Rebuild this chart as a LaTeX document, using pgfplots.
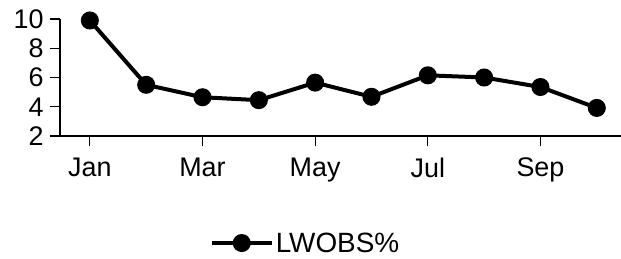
\documentclass[border=0pt]{standalone}
\usepackage{pgfplots}
\pgfplotsset{compat=1.18}
\usepackage{fontspec}
\setmainfont{Liberation Sans}
\begin{document}
\begin{tikzpicture}
\useasboundingbox (-60bp,-123bp) rectangle (561bp,136bp);
\begin{axis}[
  at={(0,0)}, anchor=south west,
  scale only axis, width=561bp, height=117bp,
  xmin=0.47, xmax=10.43, ymin=2, ymax=10,
  axis x line=bottom, axis y line=left,
  axis line style={-, line width=1.5bp},
  xtick={1,3,5,7,9}, xticklabels={Jan,Mar,May,Jul,Sep},
  ytick={2,4,6,8,10},
  tick align=outside, major tick length=10bp,
  tick style={line width=1.2bp, black},
  ticklabel style={font=\fontsize{27}{30}\selectfont},
  yticklabel style={xshift=-3bp},
  xticklabel style={yshift=-8bp},
  /pgf/number format/assume math mode=true,
  legend style={at={(0.4376,-0.915)}, anchor=center, draw=none, fill=none,
    font=\fontsize{28}{30}\selectfont, legend cell align=left},
  legend image code/.code={\draw[#1, line width=4bp] (0bp,0bp) -- (60bp,0bp); \fill (30bp,0bp) circle (7bp);},
]
\addplot[black, line width=4bp, mark=*, mark size=7bp, mark options={solid}] coordinates {
(1,9.9) (2,5.5) (3,4.65) (4,4.45) (5,5.65) (6,4.68) (7,6.15) (8,6.0) (9,5.35) (10,3.92)
};
\addlegendentry{LWOBS\%}
\end{axis}
\end{tikzpicture}
\end{document}
